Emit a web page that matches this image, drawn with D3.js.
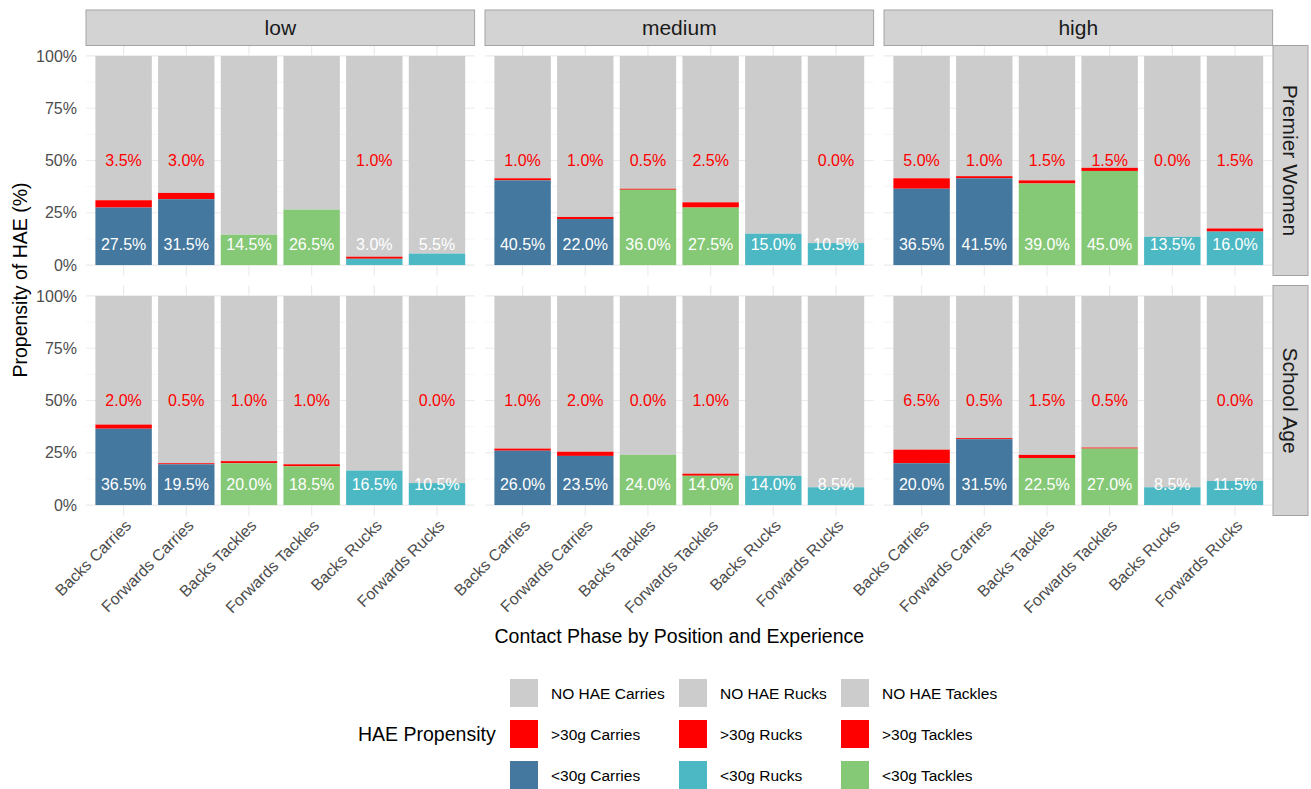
<!DOCTYPE html>
<html>
<head>
<meta charset="utf-8">
<script src="https://cdn.jsdelivr.net/npm/d3@7"></script>
<style>
  body { margin: 0; background: #ffffff; }
  svg { display: block; font-family: "Liberation Sans", Arial, Helvetica, sans-serif; }
</style>
</head>
<body>
<svg id="chart" width="1311" height="789"></svg>
<script>
// ---- Data -------------------------------------------------------------
const experience = ["low", "medium", "high"];
const cohorts = ["Premier Women", "School Age"];
const phases = ["Backs Carries", "Forwards Carries", "Backs Tackles",
                "Forwards Tackles", "Backs Rucks", "Forwards Rucks"];
const yTicks = [0, 25, 50, 75, 100];
const yMinor = [12.5, 37.5, 62.5, 87.5];

// <30g and >30g propensity (%) per phase; null = no value recorded
const pwLowBelow   = [27.5, 31.5, 14.5, 26.5, 3.0, 5.5];
const pwLowAbove   = [3.5, 3.0, null, null, 1.0, null];
const pwMedBelow   = [40.5, 22.0, 36.0, 27.5, 15.0, 10.5];
const pwMedAbove   = [1.0, 1.0, 0.5, 2.5, null, 0.0];
const pwHighBelow  = [36.5, 41.5, 39.0, 45.0, 13.5, 16.0];
const pwHighAbove  = [5.0, 1.0, 1.5, 1.5, 0.0, 1.5];
const saLowBelow   = [36.5, 19.5, 20.0, 18.5, 16.5, 10.5];
const saLowAbove   = [2.0, 0.5, 1.0, 1.0, null, 0.0];
const saMedBelow   = [26.0, 23.5, 24.0, 14.0, 14.0, 8.5];
const saMedAbove   = [1.0, 2.0, 0.0, 1.0, null, null];
const saHighBelow  = [20.0, 31.5, 22.5, 27.0, 8.5, 11.5];
const saHighAbove  = [6.5, 0.5, 1.5, 0.5, null, 0.0];

const legendPhases = ["Carries", "Rucks", "Tackles"];
const legendLevels = ["NO HAE", ">30g", "<30g"];

// ---- Styling ----------------------------------------------------------
const phaseColor = { Carries: "#44789e", Rucks: "#4bb8c3", Tackles: "#85c876" };
const greyColor = "#cccccc";
const redColor = "#ff0000";

const panels = [
  [ [pwLowBelow, pwLowAbove], [pwMedBelow, pwMedAbove], [pwHighBelow, pwHighAbove] ],
  [ [saLowBelow, saLowAbove], [saMedBelow, saMedAbove], [saHighBelow, saHighAbove] ]
];

// ---- Layout -----------------------------------------------------------
const colLeft = 86, colStep = 399, panelW = 388.6;
const rowTop = 45.5, rowStep = 240, panelH = 230;

const svg = d3.select("#chart");

const x = d3.scaleBand().domain(phases).range([0, panelW])
  .paddingInner(0.1).paddingOuter(0.15);
const y = d3.scaleLinear().domain([-5, 105]).range([panelH, 0]);
const fmt = v => v.toFixed(1) + "%";
const typeOf = p => p.split(" ")[1];

cohorts.forEach((cohort, r) => {
  experience.forEach((exp, c) => {
    const g = svg.append("g")
      .attr("transform", `translate(${colLeft + c * colStep},${rowTop + r * rowStep})`);

    // grid
    g.selectAll("line.minor").data(yMinor).join("line")
      .attr("x1", 0).attr("x2", panelW)
      .attr("y1", d => y(d)).attr("y2", d => y(d))
      .attr("stroke", "#f4f4f4").attr("stroke-width", 0.8);
    g.selectAll("line.major").data(yTicks).join("line")
      .attr("x1", 0).attr("x2", panelW)
      .attr("y1", d => y(d)).attr("y2", d => y(d))
      .attr("stroke", "#ebebeb").attr("stroke-width", 1.2);
    g.selectAll("line.vert").data(phases).join("line")
      .attr("x1", d => x(d) + x.bandwidth() / 2).attr("x2", d => x(d) + x.bandwidth() / 2)
      .attr("y1", 0).attr("y2", panelH)
      .attr("stroke", "#ebebeb").attr("stroke-width", 1.2);

    const [below, above] = panels[r][c];
    const rows = phases.map((p, i) => ({
      phase: p, type: typeOf(p), below: below[i], above: above[i]
    }));

    // stacked bars: <30g, >30g, remainder
    g.selectAll("rect.nohae").data(rows).join("rect")
      .attr("x", d => x(d.phase)).attr("width", x.bandwidth())
      .attr("y", y(100))
      .attr("height", d => y(d.below + (d.above || 0)) - y(100))
      .attr("fill", greyColor);
    g.selectAll("rect.above").data(rows.filter(d => d.above !== null)).join("rect")
      .attr("x", d => x(d.phase)).attr("width", x.bandwidth())
      .attr("y", d => y(d.below + d.above))
      .attr("height", d => y(d.below) - y(d.below + d.above))
      .attr("fill", redColor);
    g.selectAll("rect.below").data(rows).join("rect")
      .attr("x", d => x(d.phase)).attr("width", x.bandwidth())
      .attr("y", d => y(d.below))
      .attr("height", d => y(0) - y(d.below))
      .attr("fill", d => phaseColor[d.type]);

    // value labels
    g.selectAll("text.lbBelow").data(rows).join("text")
      .attr("x", d => x(d.phase) + x.bandwidth() / 2)
      .attr("y", y(10))
      .attr("dy", "0.36em")
      .attr("text-anchor", "middle")
      .attr("font-size", 16)
      .attr("fill", "#ffffff")
      .text(d => fmt(d.below));
    g.selectAll("text.lbAbove").data(rows.filter(d => d.above !== null)).join("text")
      .attr("x", d => x(d.phase) + x.bandwidth() / 2)
      .attr("y", y(50))
      .attr("dy", "0.36em")
      .attr("text-anchor", "middle")
      .attr("font-size", 16)
      .attr("fill", redColor)
      .text(d => fmt(d.above));

    // y axis on the left column
    if (c === 0) {
      const ax = g.append("g").call(
        d3.axisLeft(y).tickValues(yTicks).tickFormat(d => d + "%").tickSize(0).tickPadding(9));
      ax.select(".domain").remove();
      ax.selectAll("text").attr("font-size", 16).attr("fill", "#4d4d4d")
        .attr("font-family", "Liberation Sans, Arial, sans-serif");
    }
    // x axis on the bottom row
    if (r === cohorts.length - 1) {
      const ax = g.append("g").attr("transform", `translate(0,${panelH})`)
        .call(d3.axisBottom(x).tickSize(0));
      ax.select(".domain").remove();
      ax.selectAll("text")
        .attr("x", 0).attr("y", 0).attr("dy", "0.75em")
        .attr("transform", "translate(0,2.5) rotate(-45)")
        .attr("text-anchor", "end")
        .attr("font-size", 16).attr("fill", "#4d4d4d")
        .attr("font-family", "Liberation Sans, Arial, sans-serif");
    }
  });
});

// ---- Facet strips -----------------------------------------------------
experience.forEach((exp, c) => {
  const sx = colLeft + c * colStep;
  svg.append("rect").attr("x", sx).attr("y", 10).attr("width", panelW).attr("height", 35.5)
    .attr("fill", "#d3d3d3").attr("stroke", "#a3a3a3").attr("stroke-width", 1);
  svg.append("text").attr("x", sx + panelW / 2).attr("y", 27.75).attr("dy", "0.36em")
    .attr("text-anchor", "middle").attr("font-size", 21).attr("fill", "#1a1a1a").text(exp);
});
cohorts.forEach((cohort, r) => {
  const sy = rowTop + r * rowStep;
  svg.append("rect").attr("x", 1273).attr("y", sy).attr("width", 35).attr("height", panelH)
    .attr("fill", "#d3d3d3").attr("stroke", "#a3a3a3").attr("stroke-width", 1);
  svg.append("text")
    .attr("transform", `translate(${1290.5},${sy + panelH / 2}) rotate(90)`)
    .attr("dy", "0.36em").attr("text-anchor", "middle")
    .attr("font-size", 21).attr("fill", "#1a1a1a").text(cohort);
});

// ---- Axis titles ------------------------------------------------------
svg.append("text").attr("x", colLeft + (2 * colStep + panelW) / 2).attr("y", 636)
  .attr("dy", "0.36em").attr("text-anchor", "middle").attr("font-size", 19.5)
  .attr("fill", "#000").text("Contact Phase by Position and Experience");
svg.append("text").attr("transform", "translate(20,280) rotate(-90)")
  .attr("dy", "0.36em").attr("text-anchor", "middle").attr("font-size", 19.5)
  .attr("fill", "#000").text("Propensity of HAE (%)");

// ---- Legend -----------------------------------------------------------
const legendX = [510, 679, 841];
const legendY = [679, 720, 761];
const keySize = 28;
svg.append("text").attr("x", 358).attr("y", legendY[1] + keySize / 2).attr("dy", "0.36em")
  .attr("font-size", 19.5).attr("fill", "#000").text("HAE Propensity");
legendPhases.forEach((ph, ci) => {
  legendLevels.forEach((lv, ri) => {
    const fill = lv === "NO HAE" ? greyColor : (lv === ">30g" ? redColor : phaseColor[ph]);
    svg.append("rect").attr("x", legendX[ci]).attr("y", legendY[ri])
      .attr("width", keySize).attr("height", keySize).attr("fill", fill);
    svg.append("text").attr("x", legendX[ci] + 41).attr("y", legendY[ri] + keySize / 2)
      .attr("dy", "0.36em").attr("font-size", 15.5).attr("fill", "#000")
      .text(lv + " " + ph);
  });
});
</script>
</body>
</html>
